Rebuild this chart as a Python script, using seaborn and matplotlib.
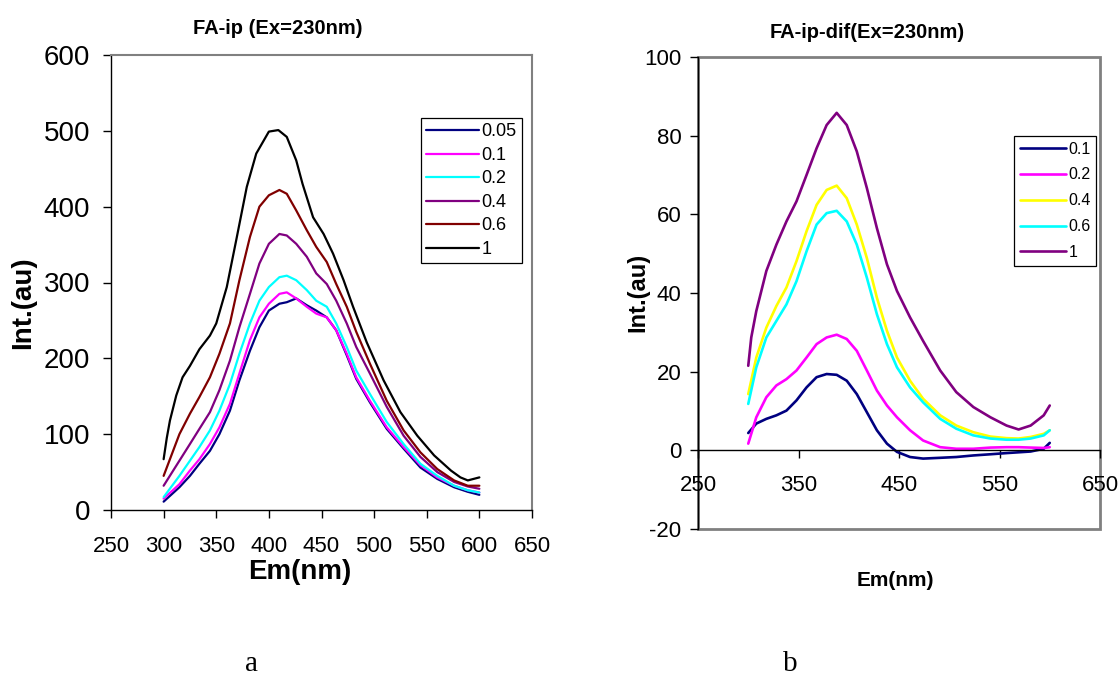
import matplotlib
matplotlib.use("Agg")
import matplotlib.pyplot as plt
from matplotlib.patches import Rectangle
import seaborn as sns
import pandas as pd

# ---------------- data: panel a ----------------
wl_a = [300, 315, 325, 334, 344, 353, 363, 372, 382, 391, 400, 410, 417, 426,
        436, 445, 455, 464, 474, 483, 496, 512, 528, 544, 560, 576, 589, 600]
a_005 = [11, 30, 45, 61, 78, 100, 131, 171, 210, 241, 263, 272, 274, 279,
         270, 263, 254, 237, 204, 173, 142, 107, 81, 56, 41, 30, 24, 20]
a_01 = [15, 34, 52, 67, 87, 109, 140, 180, 224, 254, 272, 285, 287, 279,
        268, 259, 254, 237, 206, 175, 144, 109, 83, 59, 43, 32, 26, 23]
a_02 = [17, 45, 65, 83, 105, 131, 166, 206, 246, 276, 294, 307, 309, 303,
        290, 276, 268, 246, 215, 184, 153, 116, 87, 61, 45, 32, 26, 23]
a_04 = [32, 65, 87, 107, 129, 158, 197, 241, 285, 325, 351, 364, 362, 351,
        334, 312, 298, 276, 246, 215, 180, 136, 98, 70, 50, 37, 31, 28]
a_06 = [45, 100, 127, 149, 175, 206, 246, 303, 360, 400, 415, 422, 417, 395,
        369, 347, 327, 298, 268, 235, 193, 144, 105, 76, 54, 39, 32, 32]
wl_a1 = [300, 303, 306, 312, 318, 325, 334, 344, 350, 360, 369, 379, 388, 400,
         409, 417, 426, 432, 442, 452, 461, 471, 480, 493, 509, 525, 541, 557,
         573, 582, 589, 600]
a_1 = [67, 95, 118, 151, 175, 190, 212, 230, 246, 294, 356, 426, 470, 499,
       501, 492, 461, 430, 386, 364, 338, 303, 268, 221, 171, 129, 98, 72,
       52, 43, 39, 43]
labels_a = ["0.05", "0.1", "0.2", "0.4", "0.6", "1"]
colors_a = ["#000080", "#FF00FF", "#00FFFF", "#800080", "#800000", "#000000"]

# ---------------- data: panel b ----------------
wl_b = [300, 308, 318, 328, 338, 348, 358, 368, 378, 388, 398, 408, 418, 428,
        438, 448, 461, 474, 491, 507, 524, 541, 557, 569, 581, 594, 600]
b_01 = [4.4, 6.8, 8.0, 8.9, 10.1, 12.7, 16.0, 18.6, 19.4, 19.2, 17.7, 14.3, 9.7, 5.1,
        1.7, -0.4, -1.7, -2.1, -1.9, -1.7, -1.3, -1.0, -0.7, -0.5, -0.3, 0.4, 1.9]
b_02 = [1.7, 8.4, 13.5, 16.5, 18.1, 20.3, 23.6, 27.0, 28.7, 29.4, 28.3, 25.3, 20.3, 15.2,
        11.4, 8.4, 5.1, 2.5, 0.8, 0.4, 0.4, 0.7, 0.8, 0.8, 0.7, 0.6, 0.8]
b_04 = [14.3, 23.6, 31.2, 36.7, 41.4, 48.1, 55.7, 62.4, 66.2, 67.3, 64.1, 57.4, 48.9, 38.8,
        30.4, 23.6, 17.7, 13.1, 8.9, 6.3, 4.6, 3.5, 3.1, 3.0, 3.4, 4.2, 5.1]
b_06 = [11.8, 21.1, 28.7, 32.9, 37.1, 43.0, 50.6, 57.4, 60.3, 60.9, 58.2, 52.3, 43.9, 34.6,
        27.0, 21.1, 16.0, 12.2, 8.0, 5.5, 3.8, 3.0, 2.7, 2.7, 3.0, 3.8, 5.1]
wl_b1 = [300, 303, 308, 318, 328, 338, 348, 358, 368, 378, 388, 398, 408, 418,
         428, 438, 448, 461, 474, 491, 507, 524, 541, 557, 569, 581, 594, 600]
b_1 = [21.5, 28.7, 35.4, 45.6, 52.3, 58.2, 63.3, 70.0, 76.8, 82.7, 85.8, 82.7, 76.0, 66.7,
       56.5, 47.3, 40.5, 33.8, 27.8, 20.3, 14.8, 11.0, 8.4, 6.3, 5.3, 6.3, 8.9, 11.4]
labels_b = ["0.1", "0.2", "0.4", "0.6", "1"]
colors_b = ["#000080", "#FF00FF", "#FFFF00", "#00FFFF", "#800080"]

x_ticks = [250, 300, 350, 400, 450, 500, 550, 600, 650]
x_ticks_b = [250, 350, 450, 550, 650]


def long_df(pairs, labels):
    frames = []
    for (xs, ys), lab in zip(pairs, labels):
        frames.append(pd.DataFrame({"x": xs, "y": ys, "conc": lab}))
    return pd.concat(frames, ignore_index=True)


df_a = long_df([(wl_a, a_005), (wl_a, a_01), (wl_a, a_02), (wl_a, a_04),
                (wl_a, a_06), (wl_a1, a_1)], labels_a)
df_b = long_df([(wl_b, b_01), (wl_b, b_02), (wl_b, b_04), (wl_b, b_06),
                (wl_b1, b_1)], labels_b)

sns.set_style("white")
plt.rcParams["font.family"] = ["Liberation Sans", "DejaVu Sans"]
plt.rcParams["text.color"] = "black"
plt.rcParams["axes.labelcolor"] = "black"
plt.rcParams["xtick.color"] = "black"
plt.rcParams["ytick.color"] = "black"
plt.rcParams["axes.unicode_minus"] = False

W, H = 1120, 679
fig = plt.figure(figsize=(W / 100, H / 100), dpi=100)


def px_axes(x0, y0, x1, y1):
    return fig.add_axes([x0 / W, 1 - y1 / H, (x1 - x0) / W, (y1 - y0) / H])


GRAY = "#808080"

# ---------------- panel a ----------------
ax1 = px_axes(111, 55, 532, 510)
sns.lineplot(data=df_a, x="x", y="y", hue="conc", hue_order=labels_a,
             palette=dict(zip(labels_a, colors_a)), sort=False, estimator=None,
             linewidth=1.6, legend=False, ax=ax1)
ax1.set_xlim(250, 650)
ax1.set_ylim(0, 600)
ax1.set_xticks(x_ticks)
ax1.set_yticks(range(0, 601, 100))
ax1.set_xlabel("")
ax1.set_ylabel("")
for s in ["top", "right"]:
    ax1.spines[s].set_color(GRAY)
    ax1.spines[s].set_linewidth(1.5)
for s in ["left", "bottom"]:
    ax1.spines[s].set_color("black")
    ax1.spines[s].set_linewidth(1.0)
ax1.tick_params(axis="both", direction="out", length=6, width=1, color="black",
                labelcolor="black", bottom=True, left=True)
ax1.tick_params(axis="y", labelsize=20, pad=9)
ax1.tick_params(axis="x", labelsize=16, pad=13)
leg1 = ax1.legend(ax1.get_lines(), labels_a, loc="upper left",
                  bbox_to_anchor=(421 / W, 1 - 118 / H), bbox_transform=fig.transFigure,
                  frameon=True, fancybox=False, edgecolor="black", framealpha=1,
                  fontsize=13, borderpad=0.3, labelspacing=0.36, handlelength=2.9,
                  handletextpad=0.15, borderaxespad=0)
leg1.get_frame().set_linewidth(0.9)

# ---------------- panel b ----------------
ax2 = px_axes(698, 57, 1100, 529)
sns.lineplot(data=df_b, x="x", y="y", hue="conc", hue_order=labels_b,
             palette=dict(zip(labels_b, colors_b)), sort=False, estimator=None,
             linewidth=1.9, legend=False, ax=ax2)
ax2.set_xlim(250, 650)
ax2.set_ylim(-20, 100)
ax2.set_xticks(x_ticks_b)
ax2.set_yticks(range(-20, 101, 20))
ax2.set_xlabel("")
ax2.set_ylabel("")
for s in ["top", "right"]:
    ax2.spines[s].set_visible(False)
ax2.add_patch(Rectangle((0, 0), 1, 1, transform=ax2.transAxes, fill=False,
                        edgecolor=GRAY, linewidth=2, clip_on=False, zorder=0.5))
ax2.spines["left"].set_color("black")
ax2.spines["left"].set_linewidth(1.0)
ax2.spines["bottom"].set_position(("data", 0))
ax2.spines["bottom"].set_color("black")
ax2.spines["bottom"].set_linewidth(1.0)
ax2.tick_params(axis="both", direction="out", length=6, width=1, color="black",
                labelcolor="black", bottom=True, left=True)
ax2.tick_params(axis="y", labelsize=16, pad=6)
ax2.tick_params(axis="x", labelsize=16, pad=12)
leg2 = ax2.legend(ax2.get_lines(), labels_b, loc="upper left",
                  bbox_to_anchor=(1014 / W, 1 - 136 / H), bbox_transform=fig.transFigure,
                  frameon=True, fancybox=False, edgecolor="black", framealpha=1,
                  fontsize=11.5, borderpad=0.35, labelspacing=0.68, handlelength=2.9,
                  handletextpad=0.15, borderaxespad=0)
leg2.get_frame().set_linewidth(0.9)

# ---------------- texts ----------------
def ftext(x, y, s, **kw):
    fig.text(x / W, 1 - y / H, s, ha="center", va="center", color="black", **kw)


ftext(278, 28, "FA-ip (Ex=230nm)", fontsize=14.5, fontweight="bold")
ftext(867, 33, "FA-ip-dif(Ex=230nm)", fontsize=14.5, fontweight="bold")
ftext(23, 303, "Int.(au)", fontsize=20, fontweight="bold", rotation=90)
ftext(638, 292, "Int.(au)", fontsize=17, fontweight="bold", rotation=90)
ftext(300, 572, "Em(nm)", fontsize=20, fontweight="bold")
ftext(895, 580, "Em(nm)", fontsize=15, fontweight="bold")
ftext(252, 664, "a", fontsize=21, family=["Liberation Serif", "DejaVu Serif"])
ftext(790, 664, "b", fontsize=21, family=["Liberation Serif", "DejaVu Serif"])

fig.savefig("out.png", dpi=100)
